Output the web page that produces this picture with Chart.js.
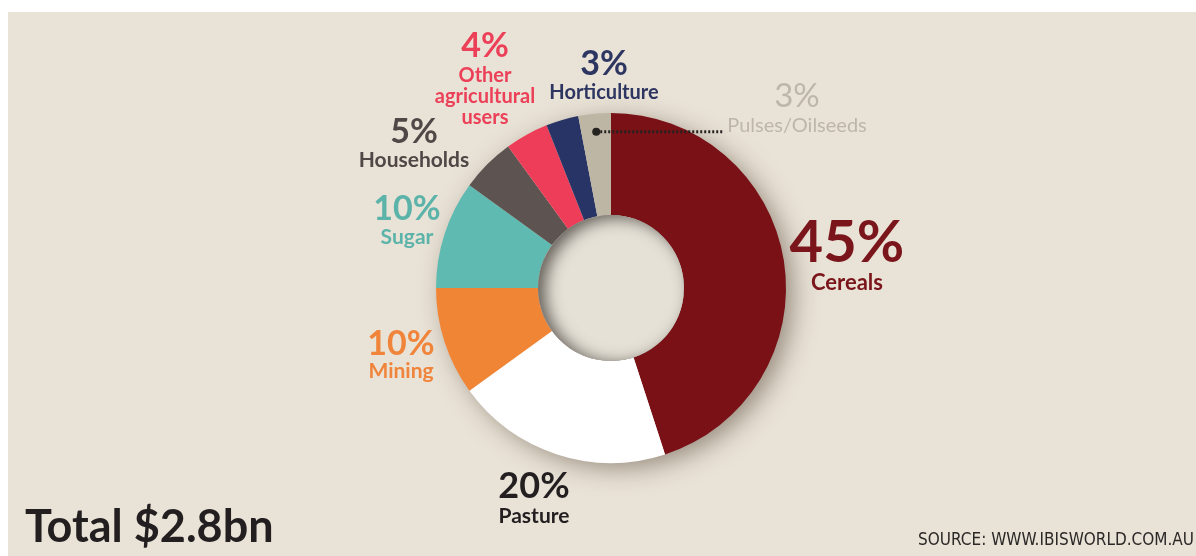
<!DOCTYPE html>
<html>
<head>
<meta charset="utf-8">
<script src="https://cdn.jsdelivr.net/npm/chart.js@4.4.0/dist/chart.umd.min.js"></script>
<style>
  html, body { margin: 0; padding: 0; background: #fff; }
  #wrap { width: 1196px; height: 556px; }
</style>
</head>
<body>
<div id="wrap"><canvas id="waterChart" width="1196" height="556"></canvas></div>
<script>
// Water use by sector, share of total (%)
const categories = ["Cereals", "Pasture", "Mining", "Sugar", "Households", "Other agricultural users", "Horticulture", "Pulses/Oilseeds"];
const shares = [45, 20, 10, 10, 5, 4, 3, 3];
const nameLines = [["Cereals"], ["Pasture"], ["Mining"], ["Sugar"], ["Households"], ["Other", "agricultural", "users"], ["Horticulture"], ["Pulses/Oilseeds"]];
const totalLabel = "Total $2.8bn";
const sourceLabel = "SOURCE: WWW.IBISWORLD.COM.AU";

const sliceColors = ["#7a1116", "#ffffff", "#f18536", "#5fbab1", "#5d5350", "#ee3d58", "#283466", "#bdb6a4"];
const textColors = ["#7a161b", "#231f20", "#f0843a", "#5cb3a9", "#504847", "#ec4058", "#2d3561", "#bdb6aa"];

// label placement relative to the doughnut centre:
// [dx, % baseline, first name baseline, line step, % font px, name font px, weight]
const labelLayout = [
  [236, -26, 2, 0, 58, 22, "bold"],
  [-77, 210, 235, 0, 36, 21, "bold"],
  [-210, 67, 90, 0, 34, 21, "bold"],
  [-204, -68, -44, 0, 34, 21, "bold"],
  [-197, -145, -121, 0, 34, 21, "bold"],
  [-126, -231, -206, 21, 34, 20, "bold"],
  [-7, -213, -189, 0, 34, 20, "bold"],
  [186, -181, -156, 0, 33, 20, "normal"]
];

const FONT = "Lato, 'Open Sans', sans-serif";
const BG = "#e9e2d6";

const decorPlugin = {
  id: 'decor',
  beforeDraw(chart) {
    const ctx = chart.ctx;
    ctx.save();
    ctx.fillStyle = '#ffffff';
    ctx.fillRect(0, 0, chart.width, chart.height);
    ctx.fillStyle = BG;
    ctx.fillRect(8, 12, chart.width - 8, chart.height - 12);
    ctx.restore();
  },
  beforeDatasetsDraw(chart) {
    // soft drop shadow under the ring
    const arc = chart.getDatasetMeta(0).data[0];
    const ctx = chart.ctx;
    ctx.save();
    ctx.shadowColor = 'rgba(60,45,30,0.5)';
    ctx.shadowBlur = 26;
    ctx.shadowOffsetX = 8;
    ctx.shadowOffsetY = 6;
    ctx.fillStyle = BG;
    ctx.beginPath();
    ctx.arc(arc.x, arc.y, arc.outerRadius - 2, 0, Math.PI * 2);
    ctx.fill();
    ctx.restore();
  },
  afterDatasetsDraw(chart) {
    // the hole, with an inset shadow
    const arc = chart.getDatasetMeta(0).data[0];
    const ctx = chart.ctx;
    const r = arc.innerRadius;
    ctx.save();
    ctx.beginPath();
    ctx.arc(arc.x, arc.y, r, 0, Math.PI * 2);
    ctx.fillStyle = '#e6e1d7';
    ctx.fill();
    ctx.clip();
    ctx.shadowColor = 'rgba(40,35,30,0.7)';
    ctx.shadowBlur = 16;
    ctx.shadowOffsetX = 7;
    ctx.shadowOffsetY = 3;
    ctx.lineWidth = 24;
    ctx.strokeStyle = '#6a645c';
    ctx.beginPath();
    ctx.arc(arc.x, arc.y, r + 12, 0, Math.PI * 2);
    ctx.stroke();
    ctx.restore();
  },
  afterDraw(chart) {
    const ctx = chart.ctx;
    const meta = chart.getDatasetMeta(0);
    const cx = meta.data[0].x;
    const cy = meta.data[0].y;
    ctx.save();
    ctx.textAlign = 'center';
    ctx.textBaseline = 'alphabetic';

    categories.forEach((cat, i) => {
      const [dx, pctY, nameY, step, pctSize, nameSize, weight] = labelLayout[i];
      ctx.fillStyle = textColors[i];
      ctx.font = weight + ' ' + pctSize + 'px ' + FONT;
      ctx.fillText(shares[i] + '%', cx + dx, cy + pctY);
      ctx.font = weight + ' ' + nameSize + 'px ' + FONT;
      nameLines[i].forEach((line, j) => {
        ctx.fillText(line, cx + dx, cy + nameY + j * step);
      });
    });

    // dotted pointer from the small slice to its label
    const last = meta.data[meta.data.length - 1];
    const mid = (last.startAngle + last.endAngle) / 2;
    const rr = last.outerRadius - 18;
    const px = last.x + Math.cos(mid) * rr;
    const py = last.y + Math.sin(mid) * rr;
    const lay = labelLayout[labelLayout.length - 1];
    ctx.font = lay[6] + ' ' + lay[5] + 'px ' + FONT;
    const endX = cx + lay[0] - ctx.measureText(nameLines[nameLines.length - 1][0]).width / 2 - 3;
    ctx.strokeStyle = '#262220';
    ctx.fillStyle = '#262220';
    ctx.lineWidth = 3;
    ctx.setLineDash([2, 2]);
    ctx.beginPath();
    ctx.moveTo(px, py);
    ctx.lineTo(endX, py);
    ctx.stroke();
    ctx.setLineDash([]);
    ctx.beginPath();
    ctx.arc(px, py, 4, 0, Math.PI * 2);
    ctx.fill();

    // total and source
    ctx.textAlign = 'left';
    ctx.fillStyle = '#231f20';
    ctx.font = 'bold 45px ' + FONT;
    ctx.fillText(totalLabel, 25, 542);
    ctx.textAlign = 'right';
    ctx.fillStyle = '#2b2828';
    ctx.font = "17px 'Liberation Sans Narrow', 'DejaVu Sans Condensed', sans-serif";
    ctx.fillText(sourceLabel, 1194, 545);
    ctx.restore();
  }
};

const ctx = document.getElementById('waterChart').getContext('2d');
const waterChart = new Chart(ctx, {
  type: 'doughnut',
  data: {
    labels: categories,
    datasets: [{
      data: shares,
      backgroundColor: sliceColors,
      borderWidth: 0,
      hoverOffset: 0,
      offset: 0
    }]
  },
  options: {
    responsive: false,
    animation: false,
    events: [],
    cutout: '41.7%',
    layout: { padding: { left: 436, right: 410, top: 113, bottom: 93 } },
    plugins: {
      legend: { display: false },
      tooltip: { enabled: false }
    }
  },
  plugins: [decorPlugin]
});
</script>
</body>
</html>
